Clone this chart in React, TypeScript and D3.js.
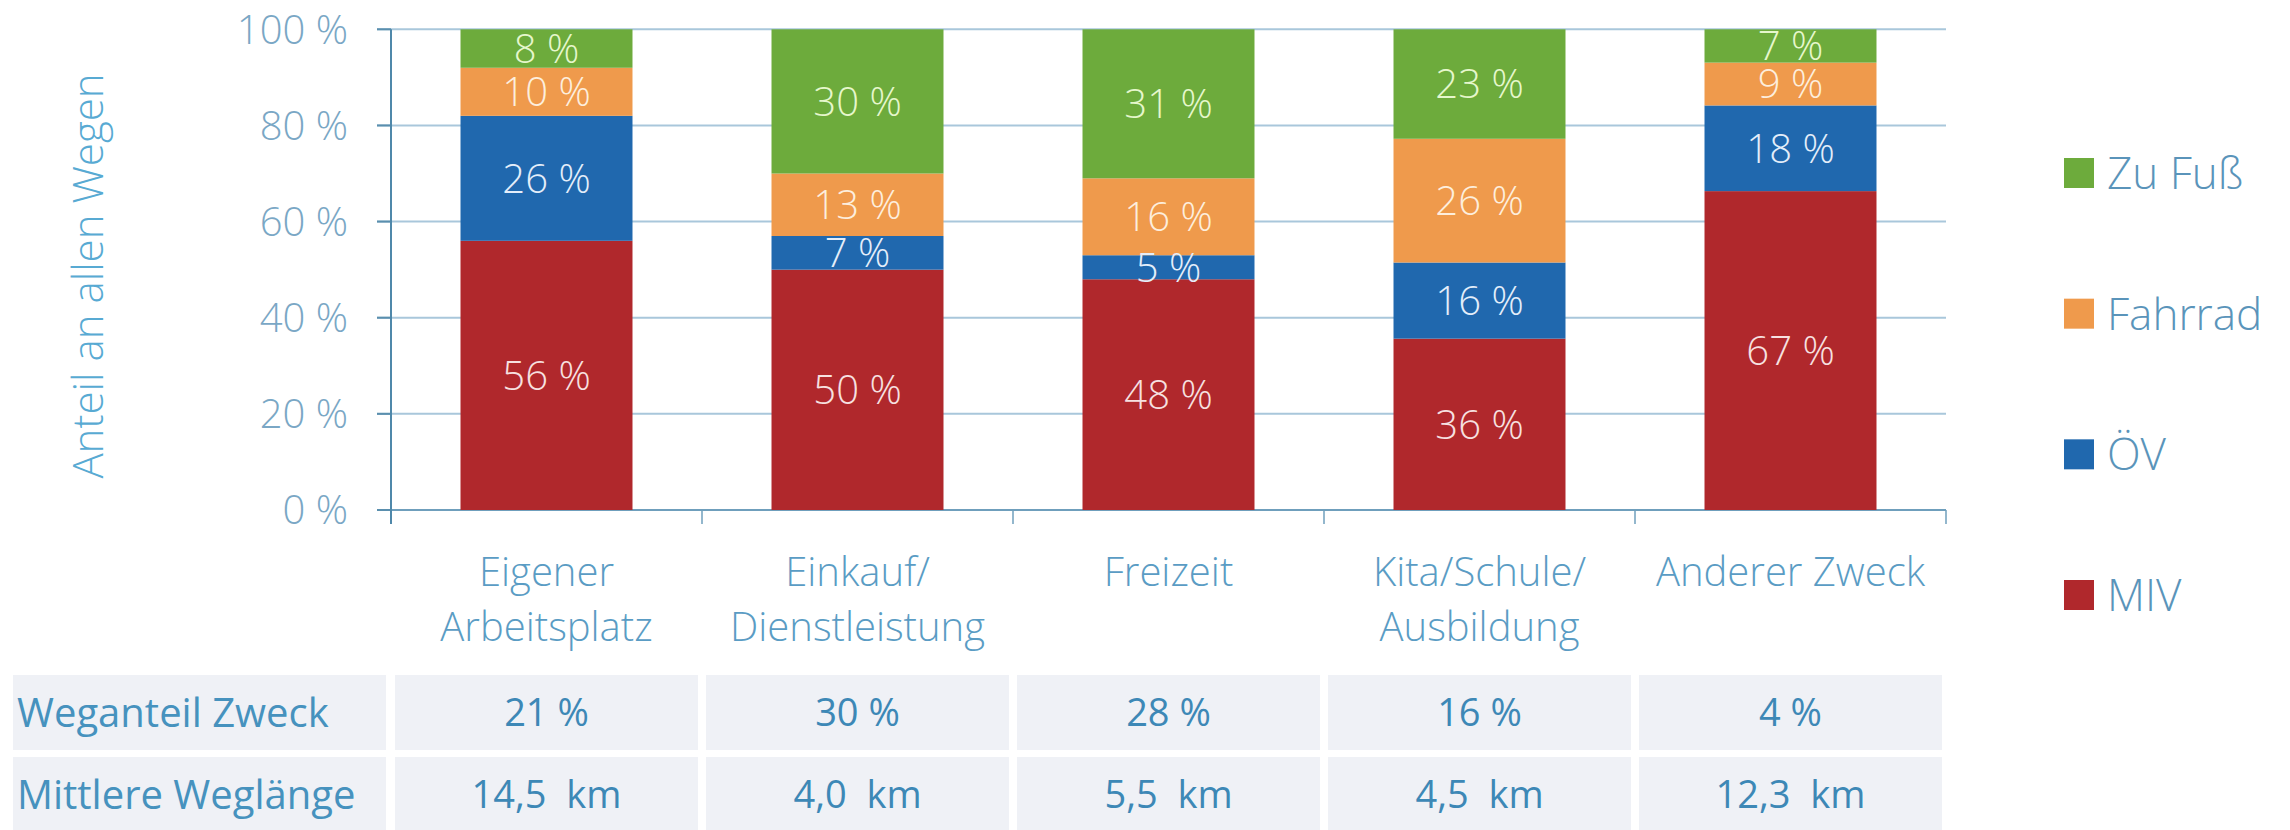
import React from 'react';
import * as d3 from 'd3';

const categories: string[][] = [
  ['Eigener', 'Arbeitsplatz'],
  ['Einkauf/', 'Dienstleistung'],
  ['Freizeit'],
  ['Kita/Schule/', 'Ausbildung'],
  ['Anderer Zweck'],
];
const seriesNames = ['MIV', 'ÖV', 'Fahrrad', 'Zu Fuß'];
const miv = [56, 50, 48, 36, 67];
const oev = [26, 7, 5, 16, 18];
const fahrrad = [10, 13, 16, 26, 9];
const fuss = [8, 30, 31, 23, 7];
const yTicks = [0, 20, 40, 60, 80, 100];
const tableRowLabels = ['Weganteil Zweck', 'Mittlere Weglänge'];
const weganteil = ['21 %', '30 %', '28 %', '16 %', '4 %'];
const weglaenge = ['14,5  km', '4,0  km', '5,5  km', '4,5  km', '12,3  km'];

const seriesColors = ['#b0282c', '#2068ae', '#ef9a4c', '#6dab3c'];
const labelColors = ['#f7e1e1', '#e4eefa', '#fdeedd', '#e6f7cc'];

const W = 2290;
const H = 830;
const FONT = "'Open Sans', 'Noto Sans', sans-serif";

export default function App() {
  const rows = categories.map((c, i) => ({
    key: i,
    MIV: miv[i],
    'ÖV': oev[i],
    Fahrrad: fahrrad[i],
    'Zu Fuß': fuss[i],
  }));
  const stack = d3.stack<any>().keys(seriesNames).offset(d3.stackOffsetExpand);
  const stacked = stack(rows);

  const x = d3
    .scaleBand<number>()
    .domain(categories.map((_, i) => i))
    .range([391, 1946])
    .paddingInner(0.447)
    .paddingOuter(0.2235);
  const y = d3.scaleLinear().domain([0, 100]).range([510, 29.3]);
  const yFrac = (v: number) => y(v * 100);
  const step = x.step();
  const x0 = 391;
  const bandEdges = d3.range(categories.length + 1).map((i) => x0 + i * step);

  const legendOrder = ['Zu Fuß', 'Fahrrad', 'ÖV', 'MIV'];
  const legendY = d3.scalePoint<string>().domain(legendOrder).range([173, 595]);

  return (
    <svg
      width={W}
      height={H}
      style={{ position: 'fixed', left: 0, top: 0, background: '#fff' }}
      fontFamily={FONT}
    >
      {/* gridlines */}
      {yTicks.map((t) => (
        <line
          key={'g' + t}
          x1={377}
          x2={1946}
          y1={y(t)}
          y2={y(t)}
          stroke={t === 0 ? '#6f9fbc' : '#a9c7db'}
          strokeWidth={2}
        />
      ))}
      {/* y tick marks */}
      {yTicks.map((t) => (
        <line key={'t' + t} x1={377} x2={391} y1={y(t)} y2={y(t)} stroke="#5a8fae" strokeWidth={2} />
      ))}
      {/* bottom separators */}
      {bandEdges.map((e, i) => (
        <line key={'s' + i} x1={e} x2={e} y1={510} y2={524} stroke="#6f9fbc" strokeWidth={1.5} />
      ))}
      {/* bars */}
      {stacked.map((s, si) => (
        <g key={s.key} fill={seriesColors[si]}>
          {s.map((d, i) => (
            <rect
              key={i}
              x={x(i)}
              width={x.bandwidth()}
              y={yFrac(d[1])}
              height={yFrac(d[0]) - yFrac(d[1])}
            />
          ))}
        </g>
      ))}
      {/* y axis line */}
      <line x1={391} x2={391} y1={29.3} y2={524} stroke="#4f88aa" strokeWidth={2} />
      {/* bar labels */}
      {stacked.map((s, si) => (
        <g key={'l' + s.key} fill={labelColors[si]} fontSize={40} fontWeight={300} textAnchor="middle">
          {s.map((d, i) => (
            <text key={i} x={(x(i) as number) + x.bandwidth() / 2} y={(yFrac(d[0]) + yFrac(d[1])) / 2} dy="0.36em">
              {`${(d.data as any)[s.key]} %`}
            </text>
          ))}
        </g>
      ))}
      {/* y tick labels */}
      <g fill="#7aa7c5" fontSize={40} fontWeight={300} textAnchor="end">
        {yTicks.map((t) => (
          <text key={'yl' + t} x={348} y={y(t)} dy="0.36em">
            {`${t} %`}
          </text>
        ))}
      </g>
      {/* y title */}
      <text
        transform="translate(103,276) rotate(-90)"
        textAnchor="middle"
        fill="#58aad3"
        fontSize={42}
        fontWeight={300}
      >
        Anteil an allen Wegen
      </text>
      {/* category labels */}
      <g fill="#5a9cc4" fontSize={40} fontWeight={300} textAnchor="middle">
        {categories.map((lines, i) => (
          <text key={'c' + i} x={(x(i) as number) + x.bandwidth() / 2} y={572} dy="0.36em">
            {lines.map((ln, li) => (
              <tspan key={li} x={(x(i) as number) + x.bandwidth() / 2} dy={li === 0 ? '0.36em' : 55}>
                {ln}
              </tspan>
            ))}
          </text>
        ))}
      </g>
      {/* legend */}
      {legendOrder.map((name) => {
        const si = seriesNames.indexOf(name);
        const cy = legendY(name) as number;
        return (
          <g key={'lg' + name}>
            <rect x={2064} y={cy - 15} width={30} height={30} fill={seriesColors[si]} />
            <text x={2107} y={cy} dy="0.36em" fill="#5a94ba" fontSize={44} fontWeight={300}>
              {name}
            </text>
          </g>
        );
      })}
      {/* table */}
      {tableRowLabels.map((lab, ri) => {
        const top = ri === 0 ? 675 : 757;
        const h = 75;
        const vals = ri === 0 ? weganteil : weglaenge;
        return (
          <g key={'r' + ri}>
            <rect x={13} y={top} width={373} height={h} fill="#eff1f6" />
            <text x={17} y={top + h / 2} dy="0.36em" fill="#4692be" fontSize={40}>
              {lab}
            </text>
            {vals.map((v, ci) => (
              <g key={ci}>
                <rect x={bandEdges[ci] + 4} y={top} width={step - 8} height={h} fill="#eff1f6" />
                <text
                  x={(x(ci) as number) + x.bandwidth() / 2}
                  y={top + h / 2}
                  dy="0.36em"
                  textAnchor="middle"
                  fill="#3d88b6"
                  fontSize={38}
                  style={{ whiteSpace: 'pre' }}
                >
                  {v}
                </text>
              </g>
            ))}
          </g>
        );
      })}
    </svg>
  );
}
